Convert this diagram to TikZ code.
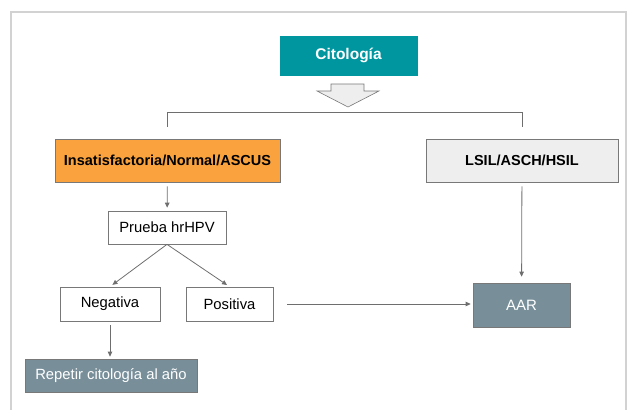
\documentclass[tikz,border=0pt]{standalone}
\usepackage{fontspec}
\setmainfont{Liberation Sans}
\usepackage{xcolor}
\usetikzlibrary{arrows.meta}

\definecolor{citoteal}{RGB}{0,150,160}
\definecolor{insatorange}{RGB}{249,162,62}
\definecolor{lsilgray}{RGB}{238,238,238}
\definecolor{aarslate}{RGB}{120,143,154}
\definecolor{linegray}{RGB}{110,110,110}
\definecolor{boxline}{RGB}{120,120,120}
\definecolor{framegray}{RGB}{210,210,210}

\begin{document}
\begin{tikzpicture}[x=1pt,y=-1pt,
    box/.style={draw=boxline,line width=0.7pt,inner sep=0pt,font=\fontsize{14.8}{16}\selectfont},
    link/.style={-{Triangle[length=5pt,width=4.5pt]},draw=linegray,line width=0.8pt}]
    \useasboundingbox (0,0) rectangle (629,410);
    % frame
    \draw[framegray,line width=2pt] (11,410) -- (11,12) -- (626,12) -- (626,410);
    % boxes
    \node (cito) at (348.5,55.5) [box,draw=citoteal,fill=citoteal,text=white,minimum width=137pt,minimum height=39pt,font=\fontsize{15.5}{17}\selectfont\bfseries] {Citología};
    \node (insat) at (167.5,160.5) [box,fill=insatorange,minimum width=225pt,minimum height=43pt,font=\fontsize{14.5}{16}\selectfont\bfseries] {Insatisfactoria/Normal/ASCUS};
    \node (lsil) at (522,160.5) [box,fill=lsilgray,minimum width=192pt,minimum height=43pt,font=\fontsize{14.5}{16}\selectfont\bfseries] {LSIL/ASCH/HSIL};
    \node (prueba) at (167,227.5) [box,fill=white,minimum width=118pt,minimum height=33pt] {Prueba hrHPV};
    \node (neg) at (110,304) [box,fill=white,minimum width=100pt,minimum height=34pt] {Negativa};
    \node (pos) at (229.5,304) [box,fill=white,minimum width=87pt,minimum height=34pt] {Positiva};
    \node (aar) at (521.5,305) [box,fill=aarslate,text=white,minimum width=97pt,minimum height=44pt,font=\fontsize{15}{17}\selectfont] {AAR};
    \node (rep) at (111,375.5) [box,fill=aarslate,text=white,minimum width=172pt,minimum height=33pt] {Repetir citología al año};
    % block arrow
    \draw[boxline,fill=lsilgray,line width=0.6pt] (331,84) -- (364,84) -- (364,91) -- (379,91) -- (348,107) -- (317,91) -- (331,91) -- cycle;
    % bracket
    \coordinate (bl) at ([yshift=12pt]insat.north);
    \coordinate (br) at ([yshift=12pt]lsil.north);
    \draw[linegray,line width=0.8pt] (bl) -- ++(0,-14) -| (br);
    % arrows
    \draw[link,shorten <=4pt,shorten >=3pt] (insat) -- (prueba);
    \draw[link,shorten >=3pt] (prueba.south) -- (neg.north);
    \draw[link,shorten >=3pt] (prueba.south) -- (pos.north);
    \draw[link,shorten <=4pt,shorten >=2pt] (neg) -- (neg |- rep.north);
    \draw[link,shorten <=14pt,shorten >=2pt] (pos.east) -- (pos.east -| aar.west);
    \draw[link,shorten <=4pt,shorten >=6pt] (lsil) -- (aar);
\end{tikzpicture}
\end{document}
